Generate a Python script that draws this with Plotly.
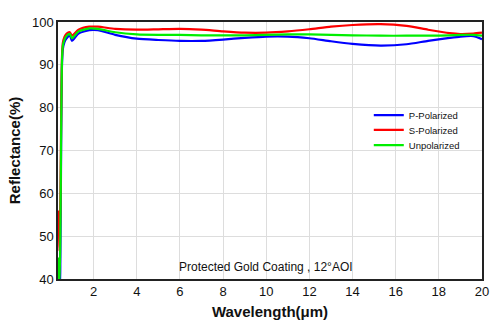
import plotly.graph_objects as go

wl = [0.38, 0.42, 0.46, 0.50, 0.53, 0.57, 0.65, 0.75, 0.90, 1.00, 1.30, 1.80, 2.20, 3.0, 4.0, 5.0, 6.0, 7.0, 8.0, 9.0, 10.0, 11.0, 12.0, 13.0, 14.0, 15.3, 16.5, 17.5, 18.5, 19.0, 19.6, 20.0]
p_pol = [38.0, 38.0, 45.0, 75.0, 89.0, 93.5, 95.3, 96.2, 96.8, 95.6, 97.3, 98.1, 98.1, 97.0, 96.1, 95.8, 95.6, 95.6, 95.9, 96.3, 96.6, 96.6, 96.2, 95.5, 94.9, 94.5, 94.8, 95.6, 96.3, 96.6, 96.7, 96.0]
s_pol = [56.0, 46.5, 58.0, 80.0, 91.0, 95.0, 96.5, 97.3, 97.6, 96.8, 98.2, 98.9, 98.9, 98.4, 98.2, 98.3, 98.4, 98.2, 97.8, 97.5, 97.5, 97.8, 98.3, 98.9, 99.3, 99.5, 99.1, 98.2, 97.4, 97.2, 97.3, 97.5]
u_pol = [45.0, 38.0, 50.0, 77.0, 90.0, 94.3, 95.9, 96.8, 97.2, 96.2, 97.8, 98.5, 98.4, 97.6, 97.1, 97.0, 97.0, 96.9, 96.9, 96.9, 97.0, 97.1, 97.1, 97.0, 96.9, 96.8, 96.8, 96.8, 96.9, 97.0, 97.0, 96.8]

x_ticks = [2, 4, 6, 8, 10, 12, 14, 16, 18, 20]
y_ticks = [40, 50, 60, 70, 80, 90, 100]

fig = go.Figure()
fig.add_trace(go.Scatter(x=wl, y=p_pol, mode="lines", name="P-Polarized", legend="legend",
                         showlegend=True,
                         line=dict(color="#0000ff", width=2.2, shape="spline", smoothing=0.6)))
fig.add_trace(go.Scatter(x=wl, y=s_pol, mode="lines", name="S-Polarized", legend="legend2",
                         showlegend=True,
                         line=dict(color="#ff0000", width=2.2, shape="spline", smoothing=0.6)))
fig.add_trace(go.Scatter(x=wl, y=u_pol, mode="lines", name="Unpolarized", legend="legend3",
                         showlegend=True,
                         line=dict(color="#00ee00", width=2.2, shape="spline", smoothing=0.6)))

leg_common = dict(x=0.733, xanchor="left", yanchor="middle",
                  bgcolor="rgba(0,0,0,0)", font=dict(size=9.5, color="#111"))

fig.update_layout(
    width=500, height=334,
    showlegend=True,
    margin=dict(l=58, r=18, t=22, b=55),
    paper_bgcolor="white", plot_bgcolor="white",
    font=dict(family="Arial, Liberation Sans", color="#111", size=13),
    legend=dict(y=0.638, **leg_common),
    legend2=dict(y=0.580, **leg_common),
    legend3=dict(y=0.521, **leg_common),
    annotations=[dict(text="Protected Gold Coating , 12°AOI", x=0.49, y=0.01,
                      xref="paper", yref="paper", xanchor="center", yanchor="bottom",
                      showarrow=False, font=dict(size=12, color="#111"))],
)
fig.update_xaxes(range=[0.35, 20], tickvals=x_ticks, showgrid=True, gridcolor="#dddddd",
                 showline=True, linecolor="#222", linewidth=1.5, mirror=True, zeroline=False,
                 ticks="", tickfont=dict(size=13),
                 title=dict(text="<b>Wavelength(μm)</b>", font=dict(size=15), standoff=8))
fig.update_yaxes(range=[40, 100], tickvals=y_ticks, showgrid=True, gridcolor="#dddddd",
                 showline=True, linecolor="#222", linewidth=1.5, mirror=True, zeroline=False,
                 ticks="", tickfont=dict(size=13),
                 title=dict(text="<b>Reflectance(%)</b>", font=dict(size=15), standoff=8))

fig.write_html("out.html")
